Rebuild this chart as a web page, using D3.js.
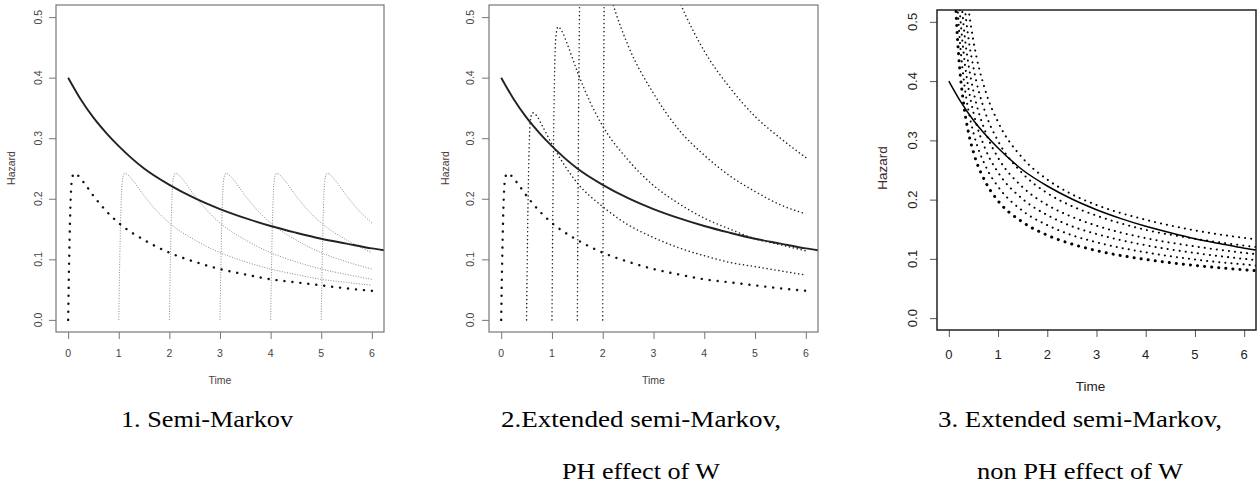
<!DOCTYPE html>
<html><head><meta charset="utf-8">
<script src="https://cdn.jsdelivr.net/npm/d3@7"></script>
<style>body{margin:0;background:#fff}svg{display:block}
.cap{font-family:"Liberation Serif","Times New Roman",Times,serif}</style>
</head><body>
<svg id="chart" width="1258" height="486"></svg>
<script>
// ---------------- data ----------------
const xTicks = [0, 1, 2, 3, 4, 5, 6];
const yTicks = [0, 0.1, 0.2, 0.3, 0.4, 0.5];
const yTickLabels = ["0.0", "0.1", "0.2", "0.3", "0.4", "0.5"];
const captions1 = ["1. Semi-Markov"];
const captions2 = ["2.Extended semi-Markov,", "PH effect of W"];
const captions3 = ["3. Extended semi-Markov,", "non PH effect of W"];

// solid reference hazard (same in all panels)
const solidTime = [0, 0.25, 0.5, 0.75, 1, 1.5, 2, 2.5, 3, 3.5, 4, 4.5, 5, 5.5, 6, 6.24];
const solidHaz  = [0.400, 0.364, 0.334, 0.309, 0.287, 0.250, 0.223, 0.201, 0.183, 0.168, 0.155, 0.144, 0.134, 0.126, 0.118, 0.115];

// thick dotted hazard (time since entry)
const baseOffset = [0, 0.02, 0.05, 0.08, 0.12, 0.2, 0.3, 0.5, 0.75, 1, 1.5, 2, 2.5, 3, 3.5, 4, 4.5, 5, 5.5, 6, 6.15];
const baseHaz    = [0, 0.100, 0.200, 0.235, 0.242, 0.238, 0.228, 0.205, 0.180, 0.160, 0.132, 0.111, 0.096, 0.084, 0.075, 0.067, 0.062, 0.057, 0.052, 0.048, 0.047];

// panel 1: grey thin dotted curves start at these entry times (same shape)
const smStarts = [1, 2, 3, 4, 5];

// panel 2: PH curves, starting at these times
const phStarts = [0.5, 1, 1.5, 2];
const phHaz05 = [0, 0.141, 0.283, 0.332, 0.342, 0.337, 0.322, 0.290, 0.255, 0.226, 0.187, 0.157, 0.136, 0.119, 0.106, 0.095, 0.088, 0.081, 0.074];
const phHaz10 = [0, 0.200, 0.400, 0.470, 0.484, 0.476, 0.456, 0.410, 0.360, 0.320, 0.264, 0.222, 0.192, 0.168, 0.150, 0.134, 0.124, 0.114];
const phHaz15 = [0, 0.283, 0.566, 0.665, 0.685, 0.673, 0.645, 0.580, 0.509, 0.453, 0.374, 0.314, 0.272, 0.238, 0.212, 0.190, 0.175];
const phHaz20 = [0, 0.400, 0.800, 0.940, 0.968, 0.952, 0.912, 0.820, 0.720, 0.640, 0.528, 0.444, 0.384, 0.336, 0.300, 0.268];

// panel 3: non-PH curves
const npTime = [0.1, 0.15, 0.2, 0.3, 0.4, 0.5, 0.75, 1, 1.5, 2, 2.5, 3, 4, 5, 6.24];
const npHaz1 = [0.626, 0.511, 0.443, 0.362, 0.313, 0.280, 0.229, 0.198, 0.162, 0.140, 0.125, 0.114, 0.099, 0.089, 0.080];
const npHaz2 = [0.701, 0.572, 0.496, 0.405, 0.350, 0.313, 0.256, 0.222, 0.181, 0.157, 0.140, 0.128, 0.111, 0.099, 0.089];
const npHaz3 = [0.777, 0.634, 0.549, 0.448, 0.388, 0.347, 0.284, 0.246, 0.201, 0.174, 0.155, 0.142, 0.123, 0.110, 0.098];
const npHaz4 = [0.856, 0.699, 0.606, 0.494, 0.428, 0.383, 0.313, 0.271, 0.221, 0.191, 0.171, 0.156, 0.135, 0.121, 0.108];
const npHaz5 = [0.945, 0.771, 0.668, 0.546, 0.472, 0.423, 0.345, 0.299, 0.244, 0.211, 0.189, 0.173, 0.149, 0.134, 0.120];
const npHaz6 = [1.047, 0.855, 0.740, 0.604, 0.523, 0.468, 0.382, 0.331, 0.270, 0.234, 0.209, 0.191, 0.166, 0.148, 0.133];

// ---------------- drawing ----------------
const svg = d3.select("#chart");
const X_DOM = [-0.24, 6.24], Y_DOM = [-0.02, 0.52];

function panel(id, g) {
  const x = d3.scaleLinear().domain(X_DOM).range([g.x0, g.x1]);
  const y = d3.scaleLinear().domain(Y_DOM).range([g.y1, g.y0]);
  const root = svg.append("g");
  svg.append("clipPath").attr("id", "clip" + id).append("rect")
    .attr("x", g.x0).attr("y", g.y0).attr("width", g.x1 - g.x0).attr("height", g.y1 - g.y0);
  const plot = root.append("g").attr("clip-path", `url(#clip${id})`);

  const xa = root.append("g").attr("transform", `translate(0,${g.y1})`)
    .call(d3.axisBottom(x).tickValues(xTicks).tickSize(g.tick).tickFormat(""));
  const ya = root.append("g").attr("transform", `translate(${g.x0},0)`)
    .call(d3.axisLeft(y).tickValues(yTicks).tickSize(g.tick).tickFormat(""));
  [xa, ya].forEach(a => { a.select(".domain").remove(); a.selectAll("line").attr("stroke", g.tickColor).attr("stroke-width", 1); });

  root.append("g").selectAll("text").data(xTicks).join("text")
    .attr("x", d => x(d)).attr("y", g.xLabY)
    .attr("text-anchor", "middle").attr("font-family", g.xfont || g.font).attr("font-size", g.fs)
    .attr("fill", g.textColor).text(d => d);
  root.append("g").selectAll("text").data(yTicks).join("text")
    .attr("transform", (d) => `translate(${g.yLabX},${y(d)}) rotate(-90)`)
    .attr("text-anchor", "middle").attr("font-family", g.font).attr("font-size", g.fs)
    .attr("fill", g.textColor).text((d, i) => yTickLabels[i]);
  root.append("text").attr("x", (g.x0 + g.x1) / 2 + g.timeDx).attr("y", g.timeY)
    .attr("text-anchor", "middle").attr("font-family", g.font).attr("font-size", g.fsTitle)
    .attr("fill", g.textColor).text("Time");
  root.append("text").attr("transform", `translate(${g.hazX},${g.hazY}) rotate(-90)`)
    .attr("text-anchor", "middle").attr("font-family", g.font).attr("font-size", g.fsTitle)
    .attr("fill", g.hazColor).text("Hazard");

  root.append("rect").attr("x", g.x0).attr("y", g.y0).attr("width", g.x1 - g.x0).attr("height", g.y1 - g.y0)
    .attr("fill", "none").attr("stroke", g.frame).attr("stroke-width", g.frameW);

  const line = d3.line().x(d => x(d[0])).y(d => y(d[1])).curve(d3.curveMonotoneX);
  return {x, y, plot, line};
}

function draw(p, pts, style) {
  p.plot.append("path").datum(pts).attr("d", p.line).attr("fill", "none")
    .attr("stroke", style.c).attr("stroke-width", style.w)
    .attr("stroke-dasharray", style.dash || null)
    .attr("stroke-linecap", style.cap || "butt");
}
const zip = (ts, vs) => vs.map((v, i) => [ts[i], v]);
const shift = (s, vs) => vs.map((v, i) => [s + baseOffset[i], v]);

const common12 = {tick: 7, tickColor: "#777", textColor: "#444", hazColor: "#4a3a3a",
  font: "'Liberation Sans', Arial, sans-serif", xfont: "'Liberation Sans Narrow', 'Arial Narrow', 'Liberation Sans', sans-serif",
  fs: 10.5, fsTitle: 10.5, frame: "#777", frameW: 1.2, timeDx: 0};

// Panel 1
const p1 = panel(1, Object.assign({}, common12, {x0: 56, x1: 384, y0: 5, y1: 332, xLabY: 357, yLabX: 42, timeY: 384, hazX: 15, hazY: 168}));
smStarts.forEach(s => {
  const n = baseOffset.filter(o => s + o <= 6.001).length;
  draw(p1, shift(s, baseHaz.slice(0, n)), {c: "#8a8a8a", w: 1, dash: "1,1.6"});
});
draw(p1, zip(baseOffset, baseHaz), {c: "#111", w: 2.4, dash: "0.1,7.9", cap: "round"});
draw(p1, zip(solidTime, solidHaz), {c: "#222", w: 1.9});

// Panel 2
const p2 = panel(2, Object.assign({}, common12, {x0: 489, x1: 818, y0: 5, y1: 332, xLabY: 357, yLabX: 474, timeY: 384, hazX: 449, hazY: 168}));
[phHaz05, phHaz10, phHaz15, phHaz20].forEach((vs, i) => {
  draw(p2, shift(phStarts[i], vs), {c: "#222", w: 1.5, dash: "0.1,3.9", cap: "round"});
});
draw(p2, zip(baseOffset.slice(0, 20), baseHaz.slice(0, 20)), {c: "#111", w: 2.4, dash: "0.1,7.9", cap: "round"});
draw(p2, zip(solidTime, solidHaz), {c: "#222", w: 1.9});

// Panel 3
const p3 = panel(3, {x0: 937, x1: 1256, y0: 10, y1: 330, tick: 7, tickColor: "#555", textColor: "#222", hazColor: "#3a2a2a",
  font: "'Liberation Sans', Arial, sans-serif", fs: 13, fsTitle: 13.5, frame: "#222", frameW: 1.5,
  xLabY: 359, yLabX: 917, timeY: 391, hazX: 887, hazY: 168, timeDx: -6});
[npHaz6, npHaz5, npHaz4, npHaz3, npHaz2].forEach(vs => {
  draw(p3, zip(npTime, vs), {c: "#000", w: 2, dash: "0.1,6", cap: "round"});
});
draw(p3, zip(npTime, npHaz1), {c: "#000", w: 3, dash: "0.1,7", cap: "round"});
draw(p3, zip(solidTime, solidHaz), {c: "#000", w: 1.5});

// Captions
const capWidths = {"1. Semi-Markov": 172, "2.Extended semi-Markov,": 280, "PH effect of W": 158,
  "3. Extended semi-Markov,": 284, "non PH effect of W": 206};
function caption(lines, cx) {
  lines.forEach((t, i) => {
    svg.append("text").attr("class", "cap").attr("x", cx).attr("y", 427 + i * 52).attr("text-anchor", "middle")
      .attr("font-size", 24)
      .attr("textLength", capWidths[t]).attr("lengthAdjust", "spacingAndGlyphs")
      .attr("fill", "#000").text(t);
  });
}
caption(captions1, 207);
caption(captions2, 641);
caption(captions3, 1080);
</script>
</body></html>
